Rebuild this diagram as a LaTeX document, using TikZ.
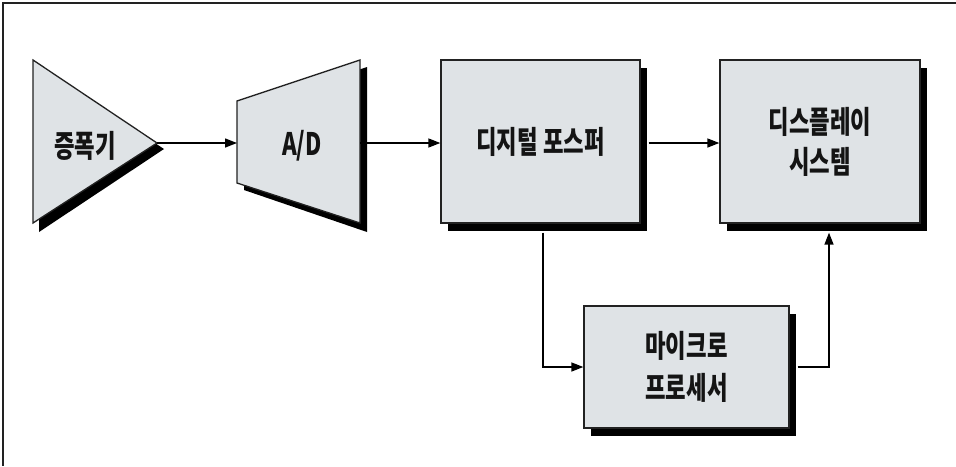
\documentclass[tikz,border=0pt]{standalone}
\usepackage{fontspec}
\newfontfamily\kf[FakeStretch=0.72]{Noto Sans CJK KR}
\usetikzlibrary{arrows.meta,shadows}
\definecolor{boxfill}{HTML}{DFE3E6}
\definecolor{edge}{HTML}{222222}
\begin{document}
\begin{tikzpicture}[x=1pt,y=-1pt,
  lbl/.style={font=\kf\bfseries\fontsize{31}{39}\selectfont, text=black!92, align=center},
  blk/.style={draw=edge, line width=1.3pt, fill=boxfill, align=center,
     drop shadow={shadow xshift=7pt, shadow yshift=-8pt, fill=black, opacity=1},
     font=\kf\bfseries\fontsize{31}{39}\selectfont, text=black!92, inner sep=0pt},
  shp/.style={draw=edge, line width=1.3pt, fill=boxfill},
  shd/.style={fill=black},
  arr/.style={line width=1.4pt, -{Triangle[length=12pt,width=9pt]}},
  ln/.style={line width=1.4pt}]
\useasboundingbox (0,0) rectangle (956,466);
\fill[white] (0,0) rectangle (956,466);
% outer frame (top and left only)
\draw[line width=1.5pt, edge] (956,3) -- (3,3) -- (3,466);
% amplifier triangle
\fill[shd] (39,66) -- (39,232) -- (164,149) -- cycle;
\draw[shp] (33,60) -- (33,223) -- (157,143) -- cycle;
\coordinate (amp) at (157,143);
\node[lbl] (ampt) at (85,146) {증폭기};
% A/D trapezoid
\fill[shd] (244,108) -- (367,67) -- (367,232) -- (244,190) -- cycle;
\draw[shp] (237,101) -- (360,60) -- (360,223) -- (237,183) -- cycle;
\coordinate (adw) at (237,143);
\coordinate (ade) at (360,143);
\node[lbl] (adt) at (302,146) {A/D};
% blocks
\node[blk, minimum width=199pt, minimum height=163pt] (dsp) at (540.5,141.5) {디지털 포스퍼};
\node[blk, minimum width=200pt, minimum height=163pt] (disp) at (820,141.5) {디스플레이\\[1pt]시스템};
\node[blk, minimum width=205pt, minimum height=122pt] (mpu) at (686.5,367) {마이크로\\[3pt]프로세서};
% connectors
\draw[arr] (amp) -- (adw);
\draw[arr] (ade) -- (ade -| dsp.west);
\coordinate (e1) at ([xshift=8pt]dsp.east |- ade);
\draw[arr] (e1) -- (e1 -| disp.west);
\coordinate (d1) at ([xshift=2.5pt,yshift=-9pt]dsp.south);
\draw[arr] (d1) |- (mpu.west);
\coordinate (d2) at ([xshift=9pt,yshift=-9pt]disp.south);
\draw[arr] ([xshift=8pt]mpu.east) -| (d2);
\end{tikzpicture}
\end{document}
